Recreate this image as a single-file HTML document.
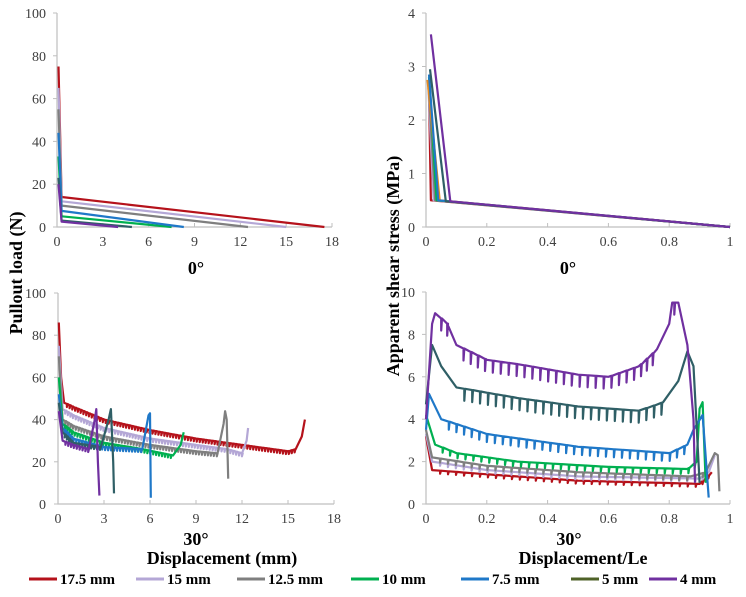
<!DOCTYPE html>
<html><head><meta charset="utf-8"><style>
html,body{margin:0;padding:0;background:#fff}
svg{display:block;font-family:"Liberation Serif",serif}
.tk{font-size:14px;fill:#404040}
.tt{font-size:18px;font-weight:bold;fill:#000}
.lg{font-size:15px;font-weight:bold;fill:#000}
</style></head><body>
<svg id="svg" width="746" height="597" viewBox="0 0 746 597">
<text class="tt" transform="translate(16,273) rotate(-90)" text-anchor="middle" dominant-baseline="central">Pullout load (N)</text>
<text class="tt" transform="translate(393,266) rotate(-90)" text-anchor="middle" dominant-baseline="central">Apparent shear stress (MPa)</text>
<text class="tt" x="196" y="274" text-anchor="middle">0°</text>
<text class="tt" x="568" y="274" text-anchor="middle">0°</text>
<text class="tt" x="196" y="545" text-anchor="middle">30°</text>
<text class="tt" x="569" y="545" text-anchor="middle">30°</text>
<text class="tt" x="222" y="564" text-anchor="middle">Displacement (mm)</text>
<text class="tt" x="583" y="564" text-anchor="middle">Displacement/Le</text>
<g id="legend"></g>
</svg>
<script>
const seriesNames = ["17.5 mm","15 mm","12.5 mm","10 mm","7.5 mm","5 mm","4 mm"];
const seriesColors = ["#b5121b","#b4a7d6","#7f7f7f","#00b050","#1f78c8","#2f5f66","#7030a0"];
const legendColors = ["#b5121b","#b4a7d6","#7f7f7f","#00b050","#1f78c8","#4f6228","#7030a0"];

// Panel A: 0° pullout load vs displacement  [x, y] pairs
const a175 = [[0.1,75],[0.3,14],[17.5,0]];
const a15  = [[0.1,65],[0.3,12],[15,0]];
const a125 = [[0.1,55],[0.3,10],[12.5,0]];
const a10  = [[0.1,33],[0.3,5],[7.5,0]];
const a75  = [[0.1,44],[0.3,7.5],[8.3,0]];
const a5   = [[0.1,23],[0.3,3],[4.9,0]];
const a4   = [[0.1,20],[0.3,2.5],[4,0]];
const aTicksX = [0,3,6,9,12,15,18];
const aTicksY = [0,20,40,60,80,100];

// Panel B: 0° shear stress vs displacement/Le
const b175 = [[0.01,2.5],[0.016,0.5],[1,0]];
const b15  = [[0.008,2.6],[0.025,0.5],[1,0]];
const b125 = [[0.008,2.7],[0.03,0.5],[1,0]];
const b10  = [[0.01,2.8],[0.035,0.5],[1,0]];
const bOr  = [[0.005,2.75],[0.045,0.5],[1,0]];
const b75  = [[0.01,2.85],[0.04,0.5],[1,0]];
const b5   = [[0.013,2.95],[0.065,0.48],[1,0]];
const b4   = [[0.016,3.6],[0.08,0.48],[1,0]];
const bTicksX = [0,0.2,0.4,0.6,0.8,1];
const bTicksY = [0,1,2,3,4];

// Panel C: 30° pullout load vs displacement
const c175 = [[0.05,86],[0.2,60],[0.4,48],[1,46],[3,40],[6,35],[9,31],[12,28],[15,25],[15.5,26],[15.9,32],[16.1,40]];
const c15  = [[0.05,75],[0.3,45],[1,42],[3,36],[6,31],[9,28],[11,26],[12,24],[12.3,30],[12.4,36]];
const c125 = [[0.05,70],[0.3,40],[1,37],[3,32],[6,28],[9,25],[10.4,24],[10.8,38],[10.9,44],[11,40],[11.1,12]];
const c10  = [[0.05,60],[0.3,38],[1,34],[3,29],[5.5,26],[7.5,23],[8,28],[8.2,34]];
const c75  = [[0.05,52],[0.3,36],[1,31],[3,27],[5.5,26],[5.9,42],[6,43],[6.05,3]];
const c5   = [[0.05,48],[0.3,34],[1,29],[2.8,27],[3.3,40],[3.45,45],[3.6,20],[3.65,5]];
const c4   = [[0.05,44],[0.3,30],[1,28],[2,26],[2.4,40],[2.5,45],[2.6,20],[2.7,4]];
const cTicksX = [0,3,6,9,12,15,18];
const cTicksY = [0,20,40,60,80,100];

// Panel D: 30° shear stress vs displacement/Le
const d175 = [[0,3.2],[0.02,1.6],[0.2,1.4],[0.5,1.1],[0.9,0.95],[0.94,1.5]];
const d15  = [[0,3.3],[0.02,2.0],[0.2,1.6],[0.5,1.3],[0.9,1.2],[0.93,1.5],[0.95,2.3]];
const d125 = [[0,3.5],[0.02,2.2],[0.2,1.8],[0.5,1.5],[0.87,1.3],[0.92,1.5],[0.95,2.4],[0.96,2.3],[0.965,0.6]];
const d10  = [[0,4.2],[0.03,2.8],[0.1,2.4],[0.3,2.0],[0.6,1.75],[0.86,1.65],[0.89,2],[0.9,4.5],[0.91,4.8],[0.92,1]];
const d75  = [[0,3.5],[0.01,5.2],[0.05,4],[0.2,3.3],[0.5,2.7],[0.8,2.4],[0.86,2.8],[0.88,3.5],[0.91,4.2],[0.93,0.3]];
const d5   = [[0,4.7],[0.02,7.5],[0.05,6.5],[0.1,5.5],[0.3,5],[0.5,4.6],[0.7,4.4],[0.78,4.8],[0.83,5.8],[0.86,7.2],[0.88,6.5],[0.9,1]];
const d4   = [[0,4],[0.02,8.5],[0.03,9],[0.07,8.5],[0.1,7.5],[0.2,6.8],[0.3,6.6],[0.5,6.1],[0.6,6],[0.7,6.5],[0.76,7.3],[0.8,8.5],[0.81,9.5],[0.83,9.5],[0.86,7.5],[0.88,4],[0.885,1]];
const dTicksX = [0,0.2,0.4,0.6,0.8,1];
const dTicksY = [0,2,4,6,8,10];

const NS = "http://www.w3.org/2000/svg";
const svg = document.getElementById("svg");
function mk(tag, attrs, parent){const e=document.createElementNS(NS,tag);for(const k in attrs)e.setAttribute(k,attrs[k]);(parent||svg).appendChild(e);return e;}

function panel(name, box, xmax, ymax, ticksX, ticksY, decimals, yLabelX){
  const g = mk("g",{});
  
  
  const sx = v => box.x0 + (box.x1-box.x0)*v/xmax;
  const sy = v => box.y0 - (box.y0-box.y1)*v/ymax;
  const ax = mk("path",{d:`M${box.x0},${box.y1}V${box.y0}H${box.x1}`,stroke:"#bfbfbf","stroke-width":1.2,fill:"none"},g);
  
  
  ticksX.forEach(t=>{
    mk("line",{x1:sx(t),x2:sx(t),y1:box.y0,y2:box.y0-4,stroke:"#bfbfbf"},g);
    const tx = mk("text",{x:sx(t),y:box.y0+19,"text-anchor":"middle",class:"tk"},g);
    tx.textContent = decimals? (t===0||t===1? String(t): t.toFixed(1)) : String(t);
    
    
  });
  ticksY.forEach(t=>{
    mk("line",{x1:box.x0,x2:box.x0-4,y1:sy(t),y2:sy(t),stroke:"#bfbfbf"},g);
    const ty = mk("text",{x:yLabelX,y:sy(t)+5,"text-anchor":"end",class:"tk"},g);
    ty.textContent = String(t);
    
    
  });
  return {g,sx,sy};
}

function drawLine(p, data, color, dip, step, label){
  const pts = data.map(d=>[p.sx(d[0]),p.sy(d[1])]);
  let d = `M${pts[0][0].toFixed(1)},${pts[0][1].toFixed(1)}`;
  if(dip>0){
    let acc=0;
    for(let i=1;i<pts.length;i++){
      const [x0,y0]=pts[i-1],[x1,y1]=pts[i];
      const len=Math.hypot(x1-x0,y1-y0);
      const flat = Math.abs(x1-x0) > Math.abs(y1-y0)*0.8;
      if(flat){
        let s=step-acc;
        while(s<len){
          const x=x0+(x1-x0)*s/len, y=y0+(y1-y0)*s/len;
          d+=`L${x.toFixed(1)},${y.toFixed(1)}L${x.toFixed(1)},${(y+dip).toFixed(1)}L${(x+0.8).toFixed(1)},${y.toFixed(1)}`;
          s+=step;
        }
        acc = (acc+len)%step;
      }
      d+=`L${x1.toFixed(1)},${y1.toFixed(1)}`;
    }
  } else {
    for(let i=1;i<pts.length;i++) d+=`L${pts[i][0].toFixed(1)},${pts[i][1].toFixed(1)}`;
  }
  const e = mk("path",{d,stroke:color,"stroke-width":2.2,fill:"none","stroke-linejoin":"round"},p.g);
  
  
}

const pA = panel("panel-0deg-load",{x0:57,x1:332,y0:227,y1:13},18,100,aTicksX,aTicksY,false,46);
[a175,a15,a125,a10,a75,a5,a4].forEach((s,i)=>drawLine(pA,s,seriesColors[i],0,0,'line-a-'+i));

const pB = panel("panel-0deg-stress",{x0:426,x1:730,y0:227,y1:13},1,4,bTicksX,bTicksY,true,415);
const bSeries=[b175,b15,b125,b10,bOr,b75,b5,b4];
const bColors=[seriesColors[0],seriesColors[1],seriesColors[2],seriesColors[3],"#e58a1f",seriesColors[4],seriesColors[5],seriesColors[6]];
bSeries.forEach((s,i)=>drawLine(pB,s,bColors[i],0,0,'line-b-'+i));

const pC = panel("panel-30deg-load",{x0:58,x1:334,y0:504,y1:293},18,100,cTicksX,cTicksY,false,46);
[c175,c15,c125,c10,c75,c5,c4].forEach((s,i)=>drawLine(pC,s,seriesColors[i],3,3,'line-c-'+i));

const pD = panel("panel-30deg-stress",{x0:426,x1:730,y0:504,y1:292},1,10,dTicksX,dTicksY,true,415);
const dDips=[3,3,4,5,8,12,12];
[d175,d15,d125,d10,d75,d5,d4].forEach((s,i)=>drawLine(pD,s,seriesColors[i],dDips[i],8,'line-d-'+i));

// legend
const lg = document.getElementById("legend");
const lgX=[29,136,237,351,461,571,649];
seriesNames.forEach((n,i)=>{
  const g = mk("g",{},lg);
  
  
  mk("line",{x1:lgX[i],x2:lgX[i]+28,y1:579,y2:579,stroke:legendColors[i],"stroke-width":3},g);
  const t = mk("text",{x:lgX[i]+31,y:584,class:"lg"},g);
  t.textContent=n;
});
</script>
</body></html>
